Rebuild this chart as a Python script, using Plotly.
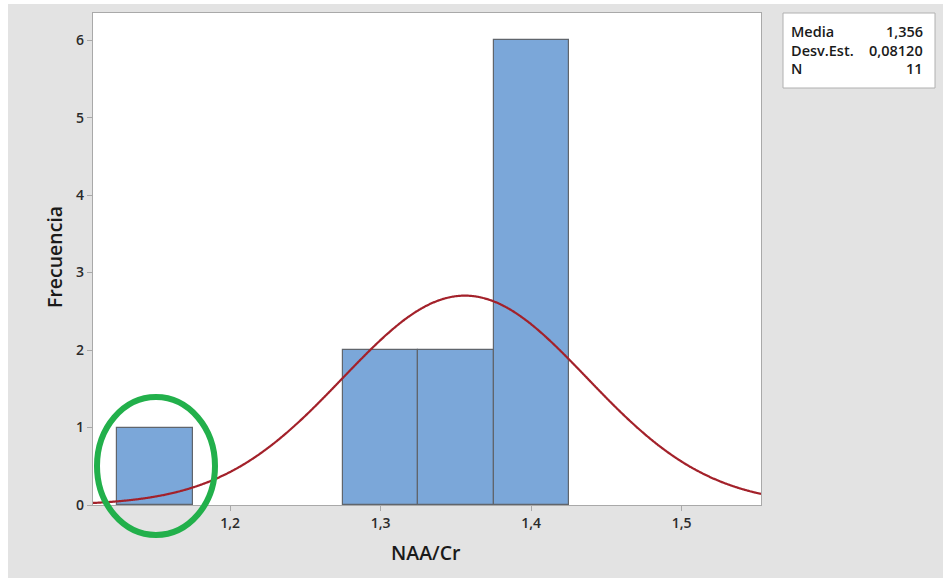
import numpy as np
import plotly.graph_objects as go

# Histogram of NAA/Cr ratios (bin width 0.05)
bin_centers = [1.15, 1.30, 1.35, 1.40]
counts = [1, 2, 2, 6]
bin_width = 0.05

# Summary statistics shown in the legend box
mean = 1.356
std = 0.08120
n = 11
stat_labels = ["Media", "Desv.Est.", "N"]
stat_values = ["1,356", "0,08120", "11"]

x_ticks = [1.2, 1.3, 1.4, 1.5]
x_ticktext = ["1,2", "1,3", "1,4", "1,5"]
y_ticks = [0, 1, 2, 3, 4, 5, 6]

x_range = [1.1088, 1.5528]
y_range = [0, 6.35]

W, H = 943, 581
L, R, T, B = 93, 761, 13, 505  # plot-area pixel edges


def px(x):
    return (x - L) / (R - L)


def py(y):
    return (B - y) / (B - T)


# Fitted normal curve scaled to frequency
xs = np.linspace(x_range[0], x_range[1], 600)
ys = n * bin_width / (std * np.sqrt(2 * np.pi)) * np.exp(-0.5 * ((xs - mean) / std) ** 2)

fig = go.Figure()
fig.add_trace(go.Bar(
    x=bin_centers, y=counts, width=bin_width,
    marker=dict(color="#7ba7d9", line=dict(color="#60656c", width=1.2)),
    hoverinfo="skip", showlegend=False,
))
fig.add_trace(go.Scatter(
    x=xs, y=ys, mode="lines",
    line=dict(color="#a3212a", width=2.2, shape="spline"),
    hoverinfo="skip", showlegend=False,
))

font_family = "Open Sans, Noto Sans, sans-serif"
axis_common = dict(
    showgrid=False, zeroline=False,
    showline=True, mirror=True, linecolor="#a9a9a9", linewidth=1.2,
    ticks="outside", ticklen=5, tickcolor="#a9a9a9", tickwidth=1,
    tickfont=dict(family=font_family, size=14, color="#2b2b2b", weight=600),
)

fig.update_layout(
    width=W, height=H,
    margin=dict(l=L, r=W - R, t=T, b=H - B),
    paper_bgcolor="#e3e3e3",
    plot_bgcolor="#ffffff",
    bargap=0,
    xaxis=dict(range=x_range, tickvals=x_ticks, ticktext=x_ticktext, **axis_common),
    yaxis=dict(range=y_range, tickvals=y_ticks, **axis_common),
)

shapes = []
# white page border around the grey panel
shapes.append(dict(type="rect", xref="paper", yref="paper", x0=px(-5), x1=px(8), y0=py(-5), y1=py(H + 5),
                   fillcolor="#ffffff", line=dict(width=0), layer="below"))
shapes.append(dict(type="rect", xref="paper", yref="paper", x0=px(-5), x1=px(W + 5), y0=py(4), y1=py(-5),
                   fillcolor="#ffffff", line=dict(width=0), layer="below"))
shapes.append(dict(type="rect", xref="paper", yref="paper", x0=px(-5), x1=px(W + 5), y0=py(H + 5), y1=py(578),
                   fillcolor="#ffffff", line=dict(width=0), layer="below"))
# statistics box
shapes.append(dict(type="rect", xref="paper", yref="paper", x0=px(783), x1=px(935), y0=py(88), y1=py(13),
                   fillcolor="#ffffff", line=dict(color="#b0b0b0", width=1)))
# highlighted outlier bin
shapes.append(dict(type="circle", xref="paper", yref="paper", x0=px(97), x1=px(215), y0=py(535), y1=py(397),
                   line=dict(color="#22b04b", width=6)))
fig.update_layout(shapes=shapes)

annotations = []
row_y = [32, 50.5, 69]
stat_font = dict(family=font_family, size=14.5, color="#1a1a1a", weight=600)
for lab, val, yy in zip(stat_labels, stat_values, row_y):
    annotations.append(dict(x=px(789), y=py(yy), xref="paper", yref="paper", text=lab, showarrow=False,
                            xanchor="left", yanchor="middle", font=stat_font))
    annotations.append(dict(x=px(925), y=py(yy), xref="paper", yref="paper", text=val, showarrow=False,
                            xanchor="right", yanchor="middle", font=stat_font))
annotations.append(dict(x=px(426), y=py(552), xref="paper", yref="paper", text="NAA/Cr", showarrow=False,
                        xanchor="center", yanchor="middle",
                        font=dict(family=font_family, size=19.5, color="#1a1a1a", weight=600)))
annotations.append(dict(x=px(54), y=py(257), xref="paper", yref="paper", text="Frecuencia", showarrow=False,
                        xanchor="center", yanchor="middle", textangle=-90,
                        font=dict(family=font_family, size=19.5, color="#1a1a1a", weight=600)))
fig.update_layout(annotations=annotations)

fig.write_html("out.html")
